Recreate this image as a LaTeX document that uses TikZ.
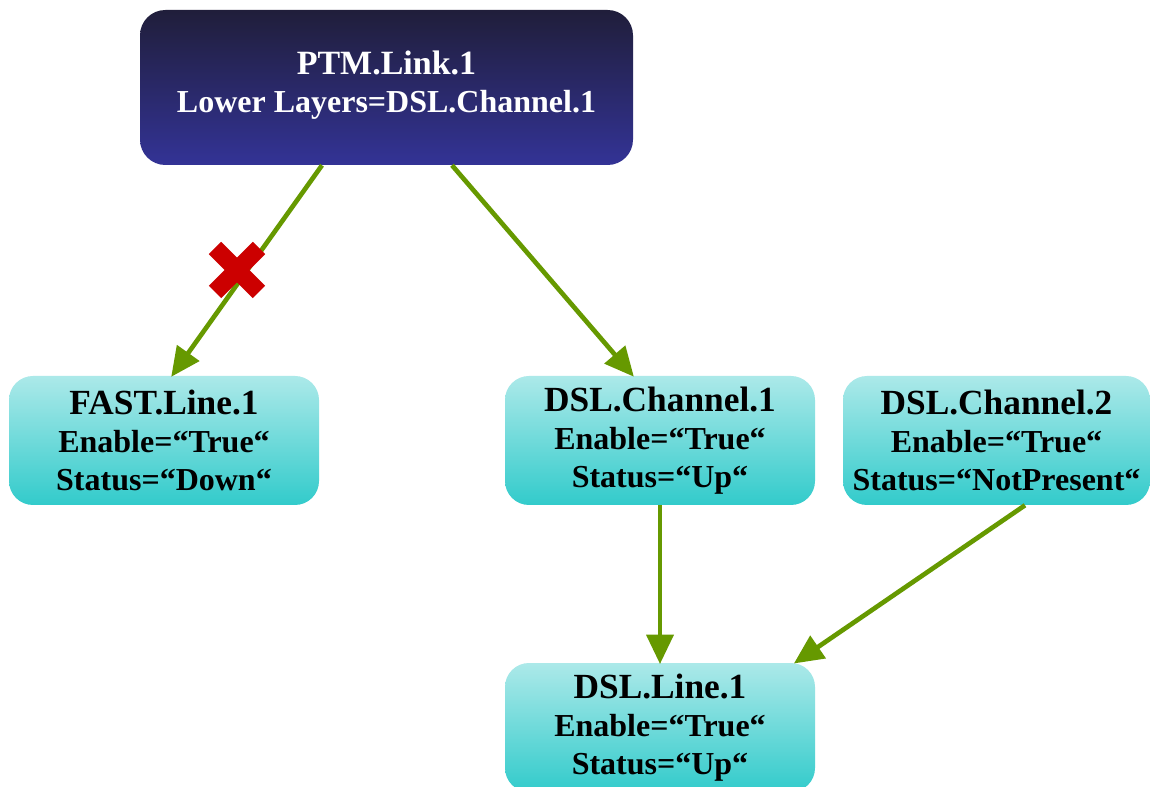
\documentclass[tikz,border=0pt]{standalone}
\usepackage{fontspec}
\setmainfont{Liberation Serif}
\usetikzlibrary{calc,arrows.meta}
\definecolor{arrgreen}{RGB}{102,153,0}
\definecolor{xred}{RGB}{204,0,0}
\definecolor{cyantop}{RGB}{172,233,233}
\definecolor{cyanbot}{RGB}{50,203,203}
\definecolor{navytop}{RGB}{32,30,58}
\definecolor{navybot}{RGB}{51,51,150}
\newcommand{\ttl}[1]{{\fontsize{26.5}{28.5}\selectfont #1}}
\begin{document}
\begin{tikzpicture}[x=0.75pt,y=-0.75pt,
  boxfont/.style={font=\fontsize{24}{28.5}\selectfont\bfseries},
  cybox/.style={boxfont, rounded corners=18pt, top color=cyantop, bottom color=cyanbot, draw=none,
    minimum width=232.5pt, minimum height=96.75pt, inner sep=0pt, align=center, text=black},
  navybox/.style={rounded corners=19pt, top color=navytop, bottom color=navybot, draw=none,
    minimum width=369.75pt, minimum height=116.25pt, inner sep=0pt},
  conn/.style={draw=arrgreen, line width=3.5pt,
    -{Triangle[length=22pt,width=20pt]}, shorten >=-1pt},
  xarm/.style={draw=xred, line width=13pt}
]
\useasboundingbox (0,0) rectangle (1150,787);
\fill[white] (0,0) rectangle (1150,787);

\node[navybox] (ptm) at (386.5,87.5) {};
\node[boxfont, text=white, align=center, inner sep=0pt] (ptmlabel) at (386.5,85)
  {{\fontsize{25.5}{28.5}\selectfont PTM.Link.1}\\Lower Layers=DSL.Channel.1};

\node[cybox] (fast) at (164,440.5) {\ttl{FAST.Line.1}\\Enable=“True“\\Status=“Down“};
\node[cybox] (ch1) at (660,440.5) {\ttl{DSL.Channel.1}\\Enable=“True“\\Status=“Up“};
\node[cybox, minimum width=230.25pt] (ch2) at (996.5,440.5) {\ttl{DSL.Channel.2}\\Enable=“True“\\Status=“NotPresent“};
\node[cybox] (line) at (660,727.5) {\ttl{DSL.Line.1}\\Enable=“True“\\Status=“Up“};

\draw[conn] ($(ptm.south)+(-64.5,0)$) -- ($(fast.north)+(8,0)$);
\draw[conn] ($(ptm.south)+(65.5,0)$) -- ($(ch1.north)+(-27,0)$);
\draw[conn] (ch1.south) -- (line.north);
\draw[conn] ($(ch2.south)+(28.5,0)$) -- ($(line.north)+(135,0)$);

\coordinate (xc) at (237,270);
\draw[xarm] ($(xc)+(-22,-22)$) -- ($(xc)+(22,22)$);
\draw[xarm] ($(xc)+(-22,22)$) -- ($(xc)+(22,-22)$);
\end{tikzpicture}
\end{document}
